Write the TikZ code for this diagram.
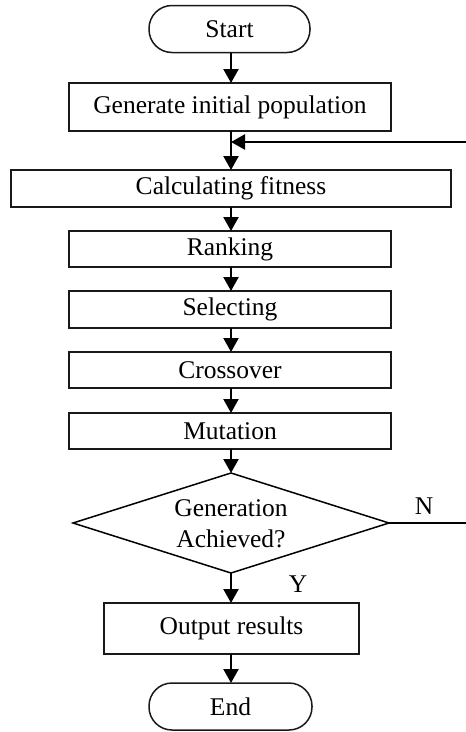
\documentclass[tikz,border=0pt]{standalone}
\usepackage{fontspec}
\setmainfont{Liberation Serif}
\usetikzlibrary{arrows.meta,shapes.geometric}
\begin{document}
\begin{tikzpicture}[x=1pt,y=-1pt,
  box/.style={draw=black!90,line width=1.5pt,fill=white,inner sep=0pt,font=\fontsize{25.5}{29}\selectfont},
  term/.style={box,rounded corners=23pt},
  conn/.style={line width=2.2pt,-{Triangle[length=14pt,width=15pt]}},
  plain/.style={line width=2.2pt},
  lbl/.style={font=\fontsize{25.5}{29}\selectfont,inner sep=0pt}]
\useasboundingbox (0,0) rectangle (466,732);
\node[term,minimum width=161pt,minimum height=47pt] (start) at (229.5,29) {Start};
\node[box,minimum width=322pt,minimum height=48pt] (gen) at (230,107) {Generate initial population};
\node[box,minimum width=440pt,minimum height=37pt] (calc) at (231,188.5) {Calculating fitness};
\node[box,minimum width=322pt,minimum height=36pt] (rank) at (230,249) {Ranking};
\node[box,minimum width=322pt,minimum height=37pt] (sel) at (230,309.5) {Selecting};
\node[box,minimum width=322pt,minimum height=36pt] (cross) at (230,370) {Crossover};
\node[box,minimum width=322pt,minimum height=36pt] (mut) at (230,431) {Mutation};
\coordinate (dt) at (231,473);
\coordinate (dr) at (389,523);
\coordinate (db) at (231,573);
\coordinate (dl) at (73,523);
\draw[line width=1.5pt,fill=white] (dt) -- (dr) -- (db) -- (dl) -- cycle;
\node[lbl,align=center] (dec) at (231,524) {Generation\\[2pt]Achieved?};
\node[box,minimum width=255pt,minimum height=51pt] (out) at (231.5,628.5) {Output results};
\node[term,minimum width=163pt,minimum height=47pt] (end) at (230.5,706.5) {End};
\coordinate (fbin) at (466,142);
\coordinate (fbout) at (466,523);
\coordinate (join) at (231,142);
\node[lbl] (nlab) at (424,506) {N};
\node[lbl] (ylab) at (298,584) {Y};
\draw[conn] (231,53) -- (231,83);
\draw[plain] (231,131) -- (join);
\draw[conn] (join) -- (231,170);
\draw[conn] (fbin) -- (join);
\draw[conn] (231,207) -- (231,231);
\draw[conn] (231,267) -- (231,291);
\draw[conn] (231,328) -- (231,352);
\draw[conn] (231,388) -- (231,413);
\draw[conn] (231,449) -- (dt);
\draw[conn] (db) -- (231,603);
\draw[conn] (231,654) -- (231,683);
\draw[plain] (dr) -- (fbout);
\end{tikzpicture}
\end{document}
